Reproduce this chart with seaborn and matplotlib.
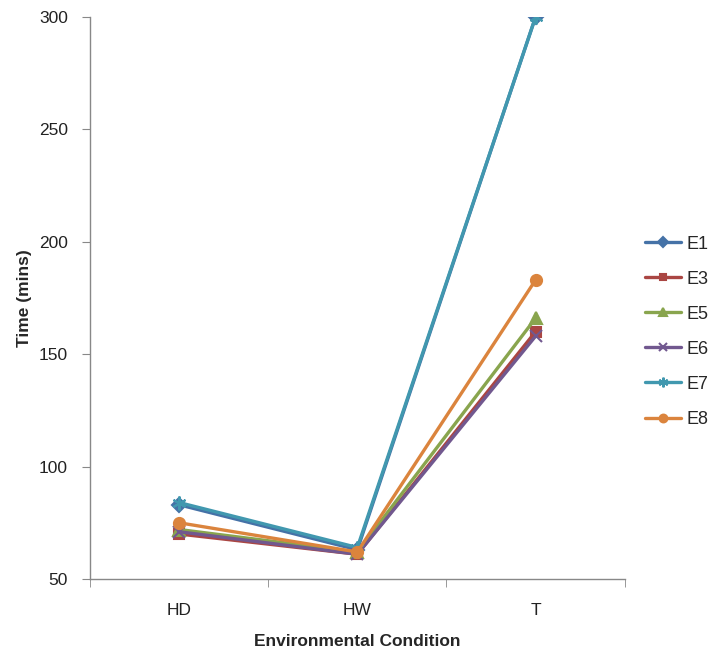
import pandas as pd
import matplotlib.pyplot as plt
import seaborn as sns

# --- data ---
conditions = ['HD', 'HW', 'T']
series_names = ['E1', 'E3', 'E5', 'E6', 'E7', 'E8']
e1 = [83, 63, 300]
e3 = [70, 61, 160]
e5 = [72, 62, 166]
e6 = [71, 61, 158]
e7 = [84, 64, 300]
e8 = [75, 62, 183]

colors = ['#4572A7', '#AA4643', '#89A54E', '#71588F', '#4198AF', '#DB843D']
markers = ['D', 's', '^', 'x', (6, 2, 0), 'o']
sizes = [7, 7, 8, 8, 10, 8]

values = [e1, e3, e5, e6, e7, e8]
rows = []
for name, vals in zip(series_names, values):
    for i, v in enumerate(vals):
        rows.append({'Series': name, 'pos': i, 'Condition': conditions[i], 'Time': v})
df = pd.DataFrame(rows)

sns.set_style('white')
plt.rcParams['font.family'] = ['Liberation Sans', 'DejaVu Sans']

fig = plt.figure(figsize=(7.11, 6.52), dpi=100)
ax = fig.add_axes([0.1266, 0.112, 0.752, 0.862])

for name, c, m, ms in zip(series_names, colors, markers, sizes):
    sub = df[df['Series'] == name]
    sns.lineplot(data=sub, x='pos', y='Time', color=c, marker=m, markersize=ms,
                 markeredgecolor=c, markeredgewidth=1.5, linewidth=2.4,
                 label=name, ax=ax, sort=False)

ax.set_xlim(-0.5, 2.5)
ax.set_ylim(50, 300)
ax.set_yticks([50, 100, 150, 200, 250, 300])
ax.set_xticks(range(len(conditions)))
ax.set_xticklabels(conditions)
ax.set_xticks([-0.5, 0.5, 1.5, 2.5], minor=True)
ax.tick_params(axis='x', which='major', length=0, labelsize=12.5, pad=17, colors='#222222')
ax.tick_params(axis='x', which='minor', length=6, direction='out', color='#888888', bottom=True)
ax.tick_params(axis='y', length=6, direction='out', labelsize=12.5, colors='#222222', left=True, pad=10)
ax.tick_params(axis='y', color='#888888')

for side in ['top', 'right']:
    ax.spines[side].set_visible(False)
for side in ['left', 'bottom']:
    ax.spines[side].set_color('#888888')
    ax.spines[side].set_linewidth(1)

ax.set_xlabel('Environmental Condition', fontsize=12.5, fontweight='bold', labelpad=12)
ax.set_ylabel('Time (mins)', fontsize=12.5, fontweight='bold', labelpad=5)

ax.legend(loc='center left', bbox_to_anchor=(1.025, 0.44), frameon=False, fontsize=13,
          handlelength=2.0, labelspacing=1.0, handletextpad=0.3, borderaxespad=0,
          markerscale=0.7)

plt.savefig('out.png', dpi=100)
